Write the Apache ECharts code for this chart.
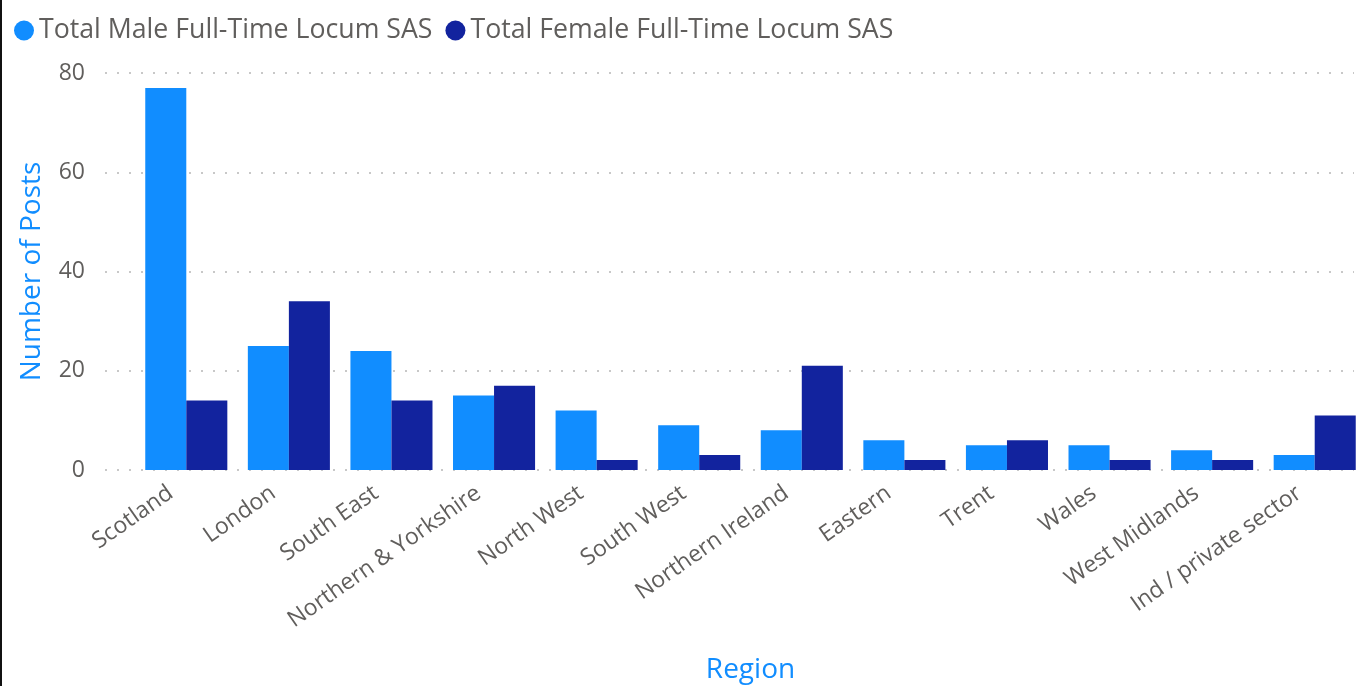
<!DOCTYPE html>
<html>
<head>
<meta charset="utf-8">
<script src="https://cdn.jsdelivr.net/npm/echarts@6/dist/echarts.min.js"></script>
<style>
  html, body { margin: 0; padding: 0; background: #fff; }
  #chart { width: 1356px; height: 686px; border-left: 2px solid #111; }
</style>
</head>
<body>
<div id="chart"></div>
<script>
// datos
var regiones = ['Scotland', 'London', 'South East', 'Northern & Yorkshire', 'North West', 'South West',
  'Northern Ireland', 'Eastern', 'Trent', 'Wales', 'West Midlands', 'Ind / private sector'];
var hombres = [77, 25, 24, 15, 12, 9, 8, 6, 5, 5, 4, 3];
var mujeres = [14, 34, 14, 17, 2, 3, 21, 2, 6, 2, 2, 11];
var ticksY = [0, 20, 40, 60, 80];

var fuente = '"Open Sans", "Noto Sans", sans-serif';
var gris = '#605E5C';

var chart = echarts.init(document.getElementById('chart'));

chart.setOption({
  animation: false,
  textStyle: { fontFamily: fuente },
  legend: {
    left: 7,
    top: 12,
    icon: 'circle',
    itemWidth: 20,
    itemHeight: 20,
    itemGap: 13,
    textStyle: { fontSize: 26.7, color: gris, fontFamily: fuente }
  },
  grid: [
    // grilla principal con las barras
    { left: 133, top: 73, width: 1231, bottom: 216, outerBoundsMode: 'none' },
    // solo para las lineas punteadas de fondo
    { left: 103, top: 73, right: 4, bottom: 216, outerBoundsMode: 'none' }
  ],
  xAxis: [
    {
      type: 'category',
      gridIndex: 0,
      data: regiones,
      name: 'Region',
      nameLocation: 'middle',
      nameGap: 186,
      nameTextStyle: { color: '#118DFF', fontSize: 28, fontFamily: fuente },
      axisLine: { show: false },
      axisTick: { show: false },
      axisLabel: { rotate: 35, fontSize: 23, color: gris, margin: 10, padding: [0, 19, 0, 0], interval: 0 }
    },
    { type: 'value', gridIndex: 1, min: 0, max: 1, show: false }
  ],
  yAxis: [
    {
      type: 'value',
      gridIndex: 0,
      min: ticksY[0],
      max: ticksY[ticksY.length - 1],
      interval: 20,
      name: 'Number of Posts',
      nameLocation: 'middle',
      nameRotate: 90,
      nameGap: 89,
      nameTextStyle: { color: '#118DFF', fontSize: 28, fontFamily: fuente },
      axisLabel: { fontSize: 23, color: gris, margin: 50 },
      splitLine: { show: false },
      axisLine: { show: false },
      axisTick: { show: false }
    },
    {
      type: 'value',
      gridIndex: 1,
      min: ticksY[0],
      max: ticksY[ticksY.length - 1],
      interval: 20,
      axisLabel: { show: false },
      axisLine: { show: false },
      axisTick: { show: false },
      splitLine: { lineStyle: { color: '#C8C8C8', type: [2, 10], width: 2 } }
    }
  ],
  series: [
    {
      name: 'Total Male Full-Time Locum SAS',
      type: 'bar',
      data: hombres,
      itemStyle: { color: '#118DFF' },
      barCategoryGap: '20%',
      barGap: '0%',
      z: 3
    },
    {
      name: 'Total Female Full-Time Locum SAS',
      type: 'bar',
      data: mujeres,
      itemStyle: { color: '#12239E' },
      barCategoryGap: '20%',
      barGap: '0%',
      z: 3
    }
  ]
});
</script>
</body>
</html>
